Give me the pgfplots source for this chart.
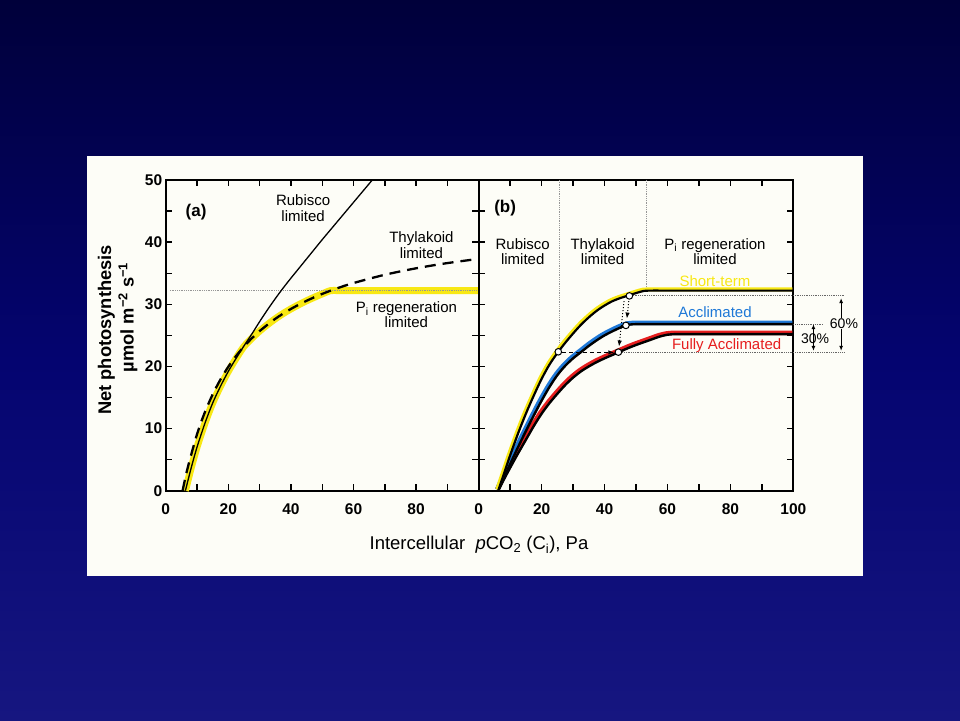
\documentclass[border=0pt]{standalone}
\usepackage{fontspec}
\setmainfont{Liberation Sans}
\usepackage{pgfplots}
\pgfplotsset{compat=1.18}
\usetikzlibrary{arrows.meta}

\definecolor{bgtop}{RGB}{0,0,58}
\definecolor{bgmid}{RGB}{4,4,112}
\definecolor{bgbot}{RGB}{22,22,128}
\definecolor{paper}{RGB}{253,253,247}
\definecolor{yel}{RGB}{248,232,20}
\definecolor{blu}{RGB}{30,120,215}
\definecolor{rd}{RGB}{230,30,30}
\definecolor{dotgray}{RGB}{150,150,150}

\newcommand{\lbl}{\fontsize{15}{15.5}\selectfont}

\pgfplotsset{
  panel/.style={
    scale only axis, width=313pt, height=310.7pt,
    xmin=0, xmax=100, ymin=0, ymax=50,
    xtick={0,10,...,100}, ytick={0,5,...,50},
    tick align=inside, major tick length=6.5pt,
    every tick/.style={black, line width=1.4pt},
    axis line style={black, line width=1.9pt},
    clip=false,
    tick label style={font=\bfseries\fontsize{15.5}{15.5}\selectfont},
    xticklabel style={yshift=-9pt},
    /pgf/number format/assume math mode=true,
  },
  tip/.style={-{Latex[length=6pt,width=4.5pt]}},
}

\begin{document}
\begin{tikzpicture}[x=1pt,y=1pt]
\shade[top color=bgtop, bottom color=bgbot, middle color=bgmid] (0,0) rectangle (960,720);
\fill[paper] (87,144) rectangle (863,564);

% panel (a)
\begin{axis}[panel, at={(165.7pt,229.3pt)}, anchor=south west,
  xticklabels={0,,20,,40,,60,,80,,},
  yticklabels={0,,10,,20,,30,,40,,50}]
\addplot[yel, line width=7pt, smooth] coordinates {
  (6.3,0) (8,3.4) (10,7.0) (12.5,10.8) (15,14.1) (17.5,16.8) (20,19.2)
  (22.5,21.3) (25,23.2) (27.5,24.52) (30,25.69) (32.5,26.72) (35,27.66)
  (37.5,28.5) (40,29.25) (42.5,29.93) (45,30.56) (47.5,31.13) (50,31.67)
  (52.7,32.2) (55,32.2) (57.5,32.2) (60,32.2) (65,32.2) (70,32.2) (80,32.2)
  (90,32.2) (100,32.2)};
\addplot[dotgray, densely dotted, line width=0.8pt] coordinates {(1.3,32.2) (100,32.2)};
% Rubisco limited
\addplot[black, line width=1.3pt, smooth] coordinates {
  (6.3,0) (8,3.4) (10,7.0) (12.5,10.8) (15,14.1) (17.5,16.8) (20,19.2)
  (22.5,21.3) (25,23.3) (27.5,25.2) (30,27.2) (32.5,29.1) (35,30.9)
  (37.5,32.6) (40,34.2) (42.5,35.75) (45,37.3) (47.5,38.85) (50,40.4)
  (52.5,41.9) (55,43.4) (57.5,44.9) (60,46.4) (62.5,47.9) (65,49.4) (66,50)};
% Thylakoid limited
\addplot[black, line width=2.3pt, dash pattern=on 11pt off 7pt, smooth] coordinates {
  (5.4,0) (7,3.64) (10,9.08) (12.5,12.61) (15,15.49) (17.5,17.90) (20,19.94)
  (22.5,21.68) (25,23.20) (27.5,24.52) (30,25.69) (35,27.66) (40,29.25)
  (45,30.56) (50,31.67) (55,32.61) (60,33.42) (70,34.75) (80,35.79)
  (90,36.63) (100,37.31)};
\node[font=\bfseries\fontsize{17}{17}\selectfont] at (axis cs:9.7,44.8) {(a)};
\node[font=\lbl, align=center] at (axis cs:43.9,45.5) {Rubisco\\limited};
\node[font=\lbl, align=center] at (axis cs:81.7,39.5) {Thylakoid\\limited};
\node[font=\lbl, align=center] at (axis cs:76.9,28.3) {P\textsubscript{i} regeneration\\limited};
\end{axis}

% panel (b)
\begin{axis}[panel, at={(478.7pt,229.3pt)}, anchor=south west, width=314.6pt,
  xticklabels={0,,20,,40,,60,,80,,100},
  yticklabels={}]
\addplot[dotgray, densely dotted, line width=0.8pt] coordinates {(25.6,50) (25.6,23.4)};
\addplot[dotgray, densely dotted, line width=0.8pt] coordinates {(53.2,50) (53.2,32.8)};
\addplot[black!60, densely dotted, line width=0.8pt] coordinates {(49,31.35) (116.4,31.35)};
\addplot[black!60, densely dotted, line width=0.8pt] coordinates {(45.6,22.2) (116.4,22.2)};
\addplot[black!60, densely dotted, line width=0.8pt] coordinates {(100,26.8) (109.4,26.8)};
% Fully acclimated
\addplot[rd, line width=4.5pt, xshift=-1pt, yshift=1.3pt, smooth] coordinates {
  (6.2,0) (8,1.8) (10,3.7) (12.5,6.0) (15,8.2) (17.5,10.4) (20,12.4) (22.5,14.1)
  (25,15.6) (27.5,17.0) (30,18.2) (32.5,19.2) (35,20.0) (37.5,20.7) (40,21.3)
  (42.5,21.85) (45,22.4) (47.5,22.95) (50,23.45) (52.5,23.9) (55,24.35)
  (57.5,24.8) (60,25.1) (62.5,25.2) (65,25.2) (67.5,25.2) (70,25.2) (75,25.2)
  (80,25.2) (90,25.2) (100,25.2)};
\addplot[black, line width=2.4pt, smooth] coordinates {
  (6.2,0) (8,1.8) (10,3.7) (12.5,6.0) (15,8.2) (17.5,10.4) (20,12.4) (22.5,14.1)
  (25,15.6) (27.5,17.0) (30,18.2) (32.5,19.2) (35,20.0) (37.5,20.7) (40,21.3)
  (42.5,21.85) (45,22.4) (47.5,22.95) (50,23.45) (52.5,23.9) (55,24.35)
  (57.5,24.8) (60,25.1) (62.5,25.2) (65,25.2) (67.5,25.2) (70,25.2) (75,25.2)
  (80,25.2) (90,25.2) (100,25.2)};
% Acclimated
\addplot[blu, line width=4.5pt, xshift=-1pt, yshift=1.3pt, smooth] coordinates {
  (6.2,0) (8,2.1) (10,4.3) (12.5,7.0) (15,9.6) (17.5,12.1) (20,14.5) (22.5,16.7)
  (25,18.6) (27.5,20.1) (30,21.3) (32.5,22.3) (35,23.3) (37.5,24.2) (40,25.0)
  (42.5,25.65) (45,26.25) (47.5,26.7) (50,26.8) (52.5,26.8) (55,26.8)
  (60,26.8) (65,26.8) (70,26.8) (80,26.8) (90,26.8) (100,26.8)};
\addplot[black, line width=2.4pt, smooth] coordinates {
  (6.2,0) (8,2.1) (10,4.3) (12.5,7.0) (15,9.6) (17.5,12.1) (20,14.5) (22.5,16.7)
  (25,18.6) (27.5,20.1) (30,21.3) (32.5,22.3) (35,23.3) (37.5,24.2) (40,25.0)
  (42.5,25.65) (45,26.25) (47.5,26.7) (50,26.8) (52.5,26.8) (55,26.8)
  (60,26.8) (65,26.8) (70,26.8) (80,26.8) (90,26.8) (100,26.8)};
% Short-term
\addplot[yel, line width=4pt, xshift=-1pt, yshift=1.2pt, smooth] coordinates {
  (6.2,0) (8,2.7) (10,5.7) (12.5,9.2) (15,12.4) (17.5,15.3) (20,18.0) (22.5,20.3)
  (25,22.15) (27.5,23.8) (30,25.3) (32.5,26.7) (35,27.9) (37.5,28.95) (40,29.8)
  (42.5,30.5) (45,31.0) (47.5,31.4) (50,31.8) (52.5,32.15) (55,32.2) (57.5,32.2)
  (60,32.2) (65,32.2) (70,32.2) (80,32.2) (90,32.2) (100,32.2)};
\addplot[black, line width=2.2pt, smooth] coordinates {
  (6.2,0) (8,2.7) (10,5.7) (12.5,9.2) (15,12.4) (17.5,15.3) (20,18.0) (22.5,20.3)
  (25,22.15) (27.5,23.8) (30,25.3) (32.5,26.7) (35,27.9) (37.5,28.95) (40,29.8)
  (42.5,30.5) (45,31.0) (47.5,31.4) (50,31.8) (52.5,32.15) (55,32.2) (57.5,32.2)
  (60,32.2) (65,32.2) (70,32.2) (80,32.2) (90,32.2) (100,32.2)};
% arrows
\addplot[black, line width=1pt, dotted, tip] coordinates {(47.7,30.5) (47.1,27.7)};
\addplot[black, line width=1pt, dotted, tip] coordinates {(46.2,30.5) (44.6,23.2)};
\addplot[black, line width=1.1pt, dash pattern=on 4pt off 3pt, tip] coordinates {(26.6,22.25) (43.1,22.25)};
\addplot[only marks, mark=*, mark size=3.3pt,
  mark options={fill=white, draw=black, line width=1pt}] coordinates {
  (25.3,22.35) (47.9,31.35) (46.8,26.6) (44.4,22.3)};
% percentage arrows
\addplot[black, line width=1pt, {Latex[length=5pt,width=4pt]}-{Latex[length=5pt,width=4pt]}] coordinates {(115.2,31.0) (115.2,22.5)};
\addplot[black, line width=1pt, {Latex[length=5pt,width=4pt]}-{Latex[length=5pt,width=4pt]}] coordinates {(106.4,26.8) (106.4,22.5)};
\node[fill=paper, inner sep=1pt, font=\fontsize{14}{14}\selectfont] at (axis cs:116.1,26.9) {60\%};
\node[inner sep=0pt, font=\fontsize{14}{14}\selectfont] at (axis cs:106.9,24.4) {30\%};

\node[font=\bfseries\fontsize{17}{17}\selectfont] at (axis cs:8.4,45.4) {(b)};
\node[font=\lbl, align=center] at (axis cs:14.0,38.5) {Rubisco\\limited};
\node[font=\lbl, align=center] at (axis cs:39.4,38.5) {Thylakoid\\limited};
\node[font=\lbl, align=center] at (axis cs:75.1,38.5) {P\textsubscript{i} regeneration\\limited};
\node[font=\lbl, text=yel] at (axis cs:75.1,33.75) {Short-term};
\node[font=\lbl, text=blu] at (axis cs:75.1,28.7) {Acclimated};
\node[font=\lbl, text=rd] at (axis cs:78.8,23.3) {Fully Acclimated};
\end{axis}

\node[font=\fontsize{18.5}{18.5}\selectfont] at (479,175)
  {Intercellular \ \textit{p}CO\textsubscript{2} (C\textsubscript{i}), Pa};
\node[rotate=90, font=\bfseries\fontsize{18.3}{18.3}\selectfont] at (106.3,390) {Net photosynthesis};
\node[rotate=90, font=\bfseries\fontsize{18.3}{18.3}\selectfont] at (128,402.6)
  {µmol m\textsuperscript{−2} s\textsuperscript{−1}};
\end{tikzpicture}
\end{document}
